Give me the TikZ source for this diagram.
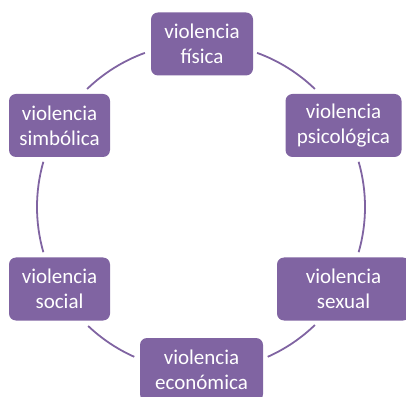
\documentclass[tikz,border=0pt]{standalone}
\usepackage{fontspec}
\setmainfont{Carlito}
\definecolor{vpurple}{RGB}{128,100,162}
\begin{document}
\begin{tikzpicture}[x=1pt,y=1pt,
  vbox/.style={fill=vpurple, rounded corners=7pt, text=white, align=center,
    font=\fontsize{21}{25}\selectfont, inner sep=0pt, minimum height=63pt},
  ring/.style={draw=vpurple, line width=1.8pt}]
\useasboundingbox (0,0) rectangle (406,396);
\coordinate (c) at (201,189);
\node[vbox, minimum width=102pt] (fis) at (202,352) {violencia\\física};
\node[vbox, minimum width=116pt] (psi) at (343.5,270.5) {violencia\\psicológica};
\node[vbox, minimum width=133pt] (sex) at (343.5,107) {violencia\\sexual};
\node[vbox, minimum width=123pt] (eco) at (201.5,26.5) {violencia\\económica};
\node[vbox, minimum width=101pt] (soc) at (59.5,107) {violencia\\social};
\node[vbox, minimum width=101pt] (sim) at (59.5,270.5) {violencia\\simbólica};
\draw[ring] ([shift={(70:164)}]c) arc[start angle=70, end angle=46, radius=164];
\draw[ring] ([shift={(16:164)}]c) arc[start angle=16, end angle=-16, radius=164];
\draw[ring] ([shift={(-46:164)}]c) arc[start angle=-46, end angle=-66, radius=164];
\draw[ring] ([shift={(246:164)}]c) arc[start angle=246, end angle=226.5, radius=164];
\draw[ring] ([shift={(196:164)}]c) arc[start angle=196, end angle=164, radius=164];
\draw[ring] ([shift={(134:164)}]c) arc[start angle=134, end angle=110, radius=164];
\end{tikzpicture}
\end{document}
